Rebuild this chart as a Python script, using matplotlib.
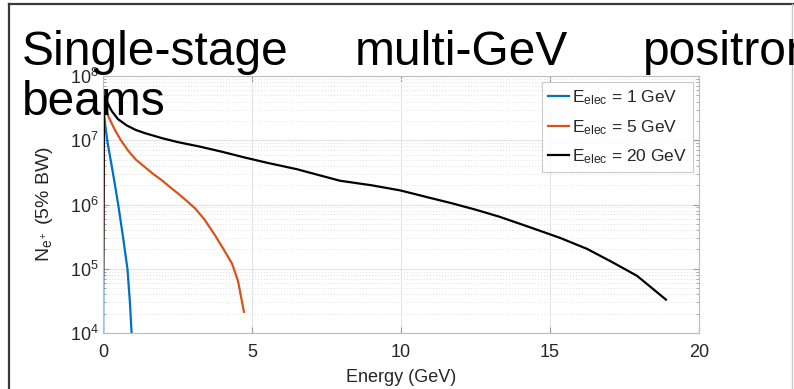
import matplotlib
matplotlib.use("Agg")
import matplotlib.pyplot as plt
from matplotlib.lines import Line2D
from matplotlib.ticker import LogLocator, NullFormatter, FixedLocator
import numpy as np

plt.rcParams["font.family"] = ["Liberation Sans", "DejaVu Sans"]
plt.rcParams["mathtext.fontset"] = "custom"
plt.rcParams["mathtext.rm"] = "Liberation Sans"
plt.rcParams["mathtext.it"] = "Liberation Sans:italic"
plt.rcParams["mathtext.bf"] = "Liberation Sans:bold"

# Positron spectra (log10 of counts per 5% bandwidth) for three drive energies
energy_1gev = [0.0, 0.03, 0.14, 0.33, 0.51, 0.67, 0.82, 0.90, 0.96, 1.0]
logn_1gev = [3.5, 7.40, 7.00, 6.50, 6.00, 5.50, 5.00, 4.50, 4.00, 3.50]

energy_5gev = [0.0, 0.04, 0.2, 0.4, 0.6, 0.84, 1.1, 1.41, 1.7, 1.98, 2.25, 2.52,
               2.8, 3.09, 3.4, 3.76, 4.05, 4.33, 4.53, 4.73]
logn_5gev = [4.77, 7.55, 7.35, 7.16, 7.00, 6.84, 6.70, 6.58, 6.47, 6.375, 6.27,
             6.17, 6.06, 5.94, 5.77, 5.52, 5.30, 5.08, 4.81, 4.33]

energy_20gev = [0.0, 0.04, 0.15, 0.3, 0.5, 0.8, 1.1, 1.41, 2.0, 2.52, 3.26, 4.0,
                4.77, 5.5, 6.5, 7.95, 9.0, 9.97, 11.0, 11.7, 12.5, 13.3, 14.3,
                15.34, 16.24, 17.1, 17.92, 18.89]
logn_20gev = [4.89, 7.68, 7.58, 7.45, 7.33, 7.23, 7.16, 7.11, 7.03, 6.97, 6.90,
              6.82, 6.73, 6.65, 6.55, 6.37, 6.30, 6.22, 6.10, 6.02, 5.92, 5.81,
              5.65, 5.48, 5.31, 5.10, 4.89, 4.52]

series_labels = [r"$\mathrm{E}_{\mathrm{elec}}$ = 1 GeV",
                 r"$\mathrm{E}_{\mathrm{elec}}$ = 5 GeV",
                 r"$\mathrm{E}_{\mathrm{elec}}$ = 20 GeV"]
series_colors = ["#0072BD", "#D95319", "#000000"]

x_ticks = [0, 5, 10, 15, 20]
title_words = ["Single-stage", "multi-GeV", "positron"]

fig = plt.figure(figsize=(7.94, 3.89), dpi=100)
W, H = 794, 389

ax = fig.add_axes([103 / W, 1 - 333 / H, (699 - 103) / W, (333 - 76) / H])

for e, ln, lab, col in zip([energy_1gev, energy_5gev, energy_20gev],
                           [logn_1gev, logn_5gev, logn_20gev],
                           series_labels, series_colors):
    ax.plot(e, 10 ** np.array(ln), color=col, lw=1.6, label=lab,
            solid_joinstyle="round")

ax.set_yscale("log")
ax.set_xlim(0, 20)
ax.set_ylim(1e4, 1e8)
ax.xaxis.set_major_locator(FixedLocator(x_ticks))
ax.yaxis.set_major_locator(LogLocator(base=10, numticks=10))
ax.yaxis.set_minor_locator(LogLocator(base=10, subs=np.arange(2, 10), numticks=20))
ax.yaxis.set_minor_formatter(NullFormatter())

ax.grid(True, which="major", color="#e3e3e3", lw=0.8, ls="-")
ax.grid(True, which="minor", axis="y", color="#e0e0e0", lw=0.7, ls=(0, (1, 2)))
ax.set_axisbelow(True)

for s in ax.spines.values():
    s.set_color("#bdbdbd")
    s.set_linewidth(0.8)
ax.tick_params(which="both", direction="in", top=True, right=True,
               color="#9a9a9a", labelcolor="#262626", labelsize=13)
ax.tick_params(which="major", length=4)
ax.tick_params(which="minor", length=2)
ax.tick_params(axis="x", pad=8)
ax.tick_params(axis="y", pad=3)

ax.set_xlabel("Energy (GeV)", fontsize=13, color="#262626", labelpad=6)
ax.set_ylabel(r"$\mathrm{N}_{\mathrm{e}^+}$ (5% BW)", fontsize=14, color="#262626",
              labelpad=11)

leg = ax.legend(loc="upper right", bbox_to_anchor=(0.99, 0.975), borderaxespad=0,
                fontsize=12.5, frameon=True, fancybox=False, handlelength=1.2,
                handletextpad=0.15, borderpad=0.35, labelspacing=0.62)
leg.get_frame().set_edgecolor("#bdbdbd")
leg.get_frame().set_linewidth(0.8)
for t in leg.get_texts():
    t.set_color("#262626")

# Slide heading, justified across the full width
title_x = [22, 355, 643]
for word, x in zip(title_words, title_x):
    fig.text(x / W, 1 - 65 / H, word, fontsize=34.5, color="black",
             ha="left", va="baseline")
fig.text(22 / W, 1 - 115 / H, "beams", fontsize=34.5, color="black",
         ha="left", va="baseline")

# Slide frame
fig.add_artist(Line2D([9 / W, 1], [1 - 4 / H, 1 - 4 / H], color="#3a3a3a", lw=1.6))
fig.add_artist(Line2D([9 / W, 9 / W], [0, 1 - 4 / H], color="#3a3a3a", lw=1.6))
fig.add_artist(Line2D([792 / W, 792 / W], [0, 1 - 4 / H], color="#c8c8c8", lw=1.0))

fig.savefig("out.png", dpi=100)
